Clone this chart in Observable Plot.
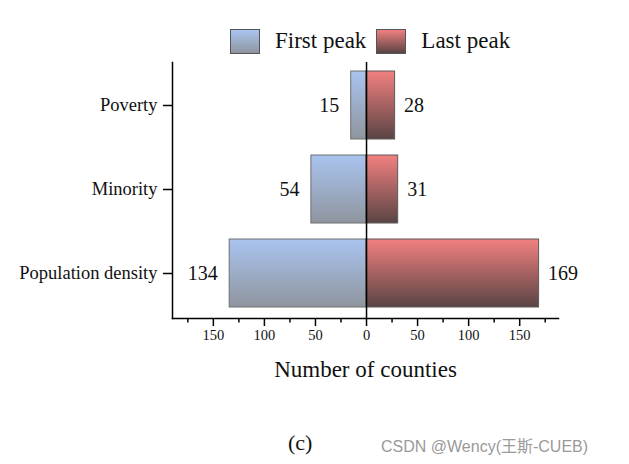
<!DOCTYPE html>
<html>
<head>
<meta charset="utf-8">
<script src="https://cdn.jsdelivr.net/npm/d3@7"></script>
<script src="https://cdn.jsdelivr.net/npm/@observablehq/plot@0.6"></script>
<style>
  body { margin: 0; background: #fff; width: 629px; height: 464px; position: relative; overflow: hidden; font-family: "Liberation Serif", "DejaVu Serif", serif; }
  #chart { position: absolute; left: 0; top: 0; }
  .legend { position: absolute; top: 28px; left: 230px; display: flex; align-items: center; font-size: 23px; color: #111; }
  .sw { width: 30px; height: 25px; border: 1px solid #555; box-sizing: border-box; }
  .sw.first { background: linear-gradient(#a9c4f0, #8f959e); }
  .sw.last { background: linear-gradient(#f08080, #5a4444); }
  .legend span.t { margin-left: 15px; margin-right: 10px; }
  .caption { position: absolute; top: 430px; left: 288px; font-size: 22px; color: #111; }
  .wm { position: absolute; top: 433px; left: 381px; font-family: "Liberation Sans", "Noto Sans CJK SC", sans-serif; font-size: 16px; color: #9a9a9a; }
</style>
</head>
<body>
<div id="chart"></div>
<div class="legend">
  <div class="sw first"></div><span class="t">First peak</span>
  <div class="sw last"></div><span class="t">Last peak</span>
</div>
<div class="caption">(c)</div>
<div class="wm">CSDN @Wency(王斯-CUEB)</div>
<script>
const categories = ["Poverty", "Minority", "Population density"];
const firstPeak = [15, 54, 134];
const lastPeak = [28, 31, 169];
const majorTicks = [-150, -100, -50, 0, 50, 100, 150];
const minorTicks = [-175, -125, -75, -25, 25, 75, 125, 175];

const firstData = categories.map((c, i) => ({category: c, value: -firstPeak[i], label: firstPeak[i]}));
const lastData = categories.map((c, i) => ({category: c, value: lastPeak[i], label: lastPeak[i]}));

const plot = Plot.plot({
  width: 629,
  height: 464,
  marginLeft: 172,
  marginRight: 71,
  marginTop: 62,
  marginBottom: 146,
  style: {fontFamily: "Liberation Serif, DejaVu Serif, serif", color: "#111", background: "transparent"},
  x: {domain: [-190, 188]},
  y: {domain: categories, range: [63, 315], paddingInner: 0.19, paddingOuter: 0.095},
  marks: [
    Plot.barX(firstData, {y: "category", x: "value", fill: "url(#gradFirst)", stroke: "#6e6e6e", strokeWidth: 1}),
    Plot.barX(lastData, {y: "category", x: "value", fill: "url(#gradLast)", stroke: "#5a5a5a", strokeWidth: 1}),
    Plot.ruleX([0], {stroke: "#000", strokeWidth: 1.5}),
    Plot.frame({anchor: "left", stroke: "#000", strokeWidth: 1.5}),
    Plot.frame({anchor: "bottom", stroke: "#000", strokeWidth: 1.5}),
    Plot.text(firstData, {y: "category", x: "value", text: "label", textAnchor: "end", dx: -12, fontSize: 20}),
    Plot.text(lastData, {y: "category", x: "value", text: "label", textAnchor: "start", dx: 9, fontSize: 20}),
    Plot.axisY({tickSize: 9, tickPadding: 6, fontSize: 18.5, label: null, stroke: "#000", strokeWidth: 1.5}),
    Plot.axisX({ticks: majorTicks, tickSize: 8, tickPadding: 3, fontSize: 14.5, tickFormat: d => Math.abs(d), stroke: "#000", strokeWidth: 1.5,
      label: "Number of counties", labelArrow: "none", labelAnchor: "center", labelOffset: 58}),
    Plot.axisX({ticks: minorTicks, tickSize: 4.5, tickFormat: () => "", label: null, stroke: "#000", strokeWidth: 1.5})
  ]
});

const svg = d3.select(plot);
const defs = svg.insert("defs", ":first-child");
const g1 = defs.append("linearGradient").attr("id", "gradFirst").attr("x1", 0).attr("y1", 0).attr("x2", 0).attr("y2", 1);
g1.append("stop").attr("offset", "0%").attr("stop-color", "#a9c4f0");
g1.append("stop").attr("offset", "100%").attr("stop-color", "#8f959e");
const g2 = defs.append("linearGradient").attr("id", "gradLast").attr("x1", 0).attr("y1", 0).attr("x2", 0).attr("y2", 1);
g2.append("stop").attr("offset", "0%").attr("stop-color", "#f28080");
g2.append("stop").attr("offset", "100%").attr("stop-color", "#5a4444");
// size axis texts, remove any arrow left in the axis label
svg.selectAll("text").each(function() {
  const t = d3.select(this);
  if (t.text().startsWith("Number of counties")) t.text("Number of counties").style("font-size", "23px");
  if (categories.includes(t.text())) t.style("font-size", "18.5px");
});

document.getElementById("chart").appendChild(plot);
</script>
</body>
</html>
